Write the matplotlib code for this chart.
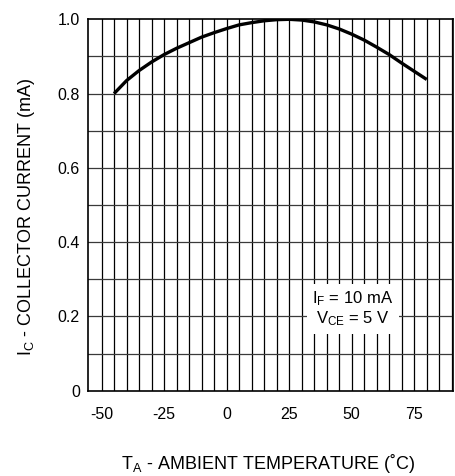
import matplotlib
matplotlib.use("Agg")
import matplotlib.pyplot as plt
import numpy as np

plt.rcParams['font.family'] = ['Liberation Sans', 'DejaVu Sans']
plt.rcParams['mathtext.fontset'] = 'custom'
plt.rcParams['mathtext.rm'] = 'Liberation Sans'
plt.rcParams['mathtext.it'] = 'Liberation Sans'

temp_c = [-45, -40, -35, -30, -25, -20, -15, -10, -5, 0, 5, 10, 15, 20,
          25, 30, 35, 40, 45, 50, 55, 60, 65, 70, 75, 80]
ic_ma = [0.800, 0.835, 0.862, 0.885, 0.905, 0.922, 0.937, 0.952, 0.964, 0.975,
         0.985, 0.991, 0.996, 0.999, 1.000, 0.998, 0.993, 0.985, 0.974, 0.960,
         0.944, 0.925, 0.905, 0.882, 0.860, 0.838]
x_ticks = [-50, -25, 0, 25, 50, 75]
x_tick_labels = ['-50', '-25', '0', '25', '50', '75']
y_ticks = [0, 0.2, 0.4, 0.6, 0.8, 1.0]
y_tick_labels = ['0', '0.2', '0.4', '0.6', '0.8', '1.0']

fig = plt.figure(figsize=(4.56, 4.76), dpi=100)
ax = fig.add_axes([88.3/456, 1-390.7/476, (453-88.3)/456, (390.7-19.3)/476])

ax.set_xlim(-55.3, 90.5)
ax.set_ylim(0, 1.0)

for xv in np.arange(-50, 91, 5):
    ax.axvline(xv, color='black', lw=0.9, zorder=1)
for yv in np.arange(0.1, 1.0, 0.1):
    ax.axhline(yv, color='#3a3a3a', lw=0.9, zorder=1)

ax.plot(temp_c, ic_ma, color='black', lw=2.4, solid_capstyle='butt', zorder=3)

ax.set_xticks(x_ticks)
ax.set_xticklabels(x_tick_labels, fontsize=11.5)
ax.set_yticks(y_ticks)
ax.set_yticklabels(y_tick_labels, fontsize=11.5)
ax.tick_params(axis='both', length=0)
ax.tick_params(axis='x', pad=11.5)
ax.tick_params(axis='y', pad=6)

for s in ax.spines.values():
    s.set_linewidth(1.2)
    s.set_color('black')

ax.text(50.5, 0.22, 'I$_\\mathregular{F}$ = 10 mA\nV$_\\mathregular{CE}$ = 5 V',
        ha='center', va='center', fontsize=12, linespacing=1.1,
        bbox=dict(facecolor='white', edgecolor='none', pad=4), zorder=4)

fig.text(268/456, 1-469/476, 'T$_\\mathregular{A}$ - AMBIENT TEMPERATURE (˚C)',
         ha='center', va='baseline', fontsize=13)
fig.text(26.5/456, 1-217/476, 'I$_\\mathregular{C}$ - COLLECTOR CURRENT (mA)',
         ha='center', va='center', rotation=90, fontsize=13)

fig.savefig('out.png', dpi=100)
